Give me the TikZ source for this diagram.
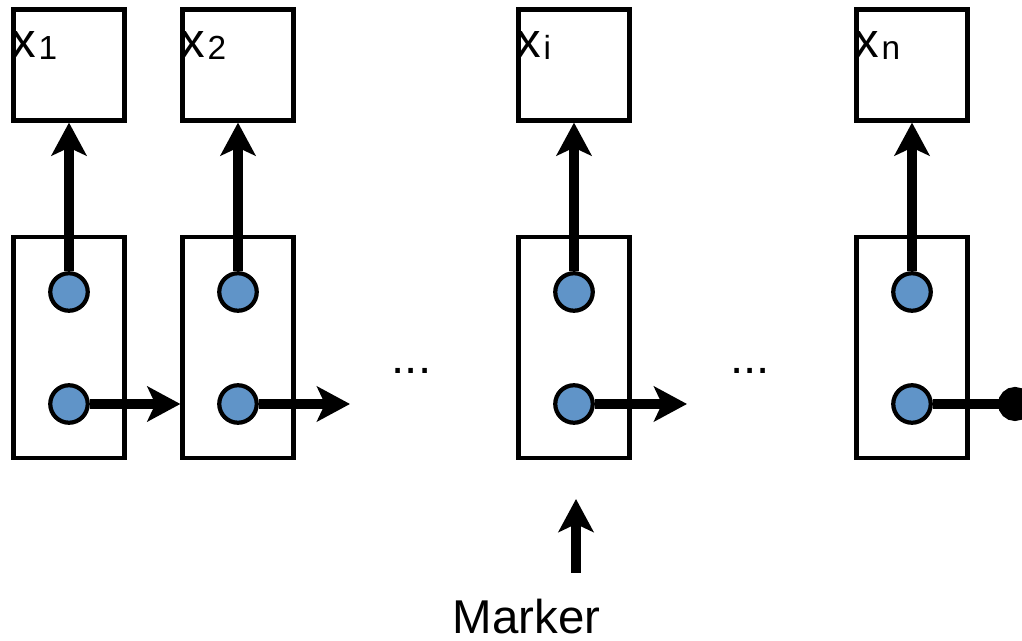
\documentclass[tikz,border=0pt]{standalone}
\usepackage{fontspec}
\setmainfont{Liberation Sans}
\usetikzlibrary{arrows.meta}
\definecolor{dotblue}{RGB}{96,148,200}
\newcommand{\xsub}[1]{x\hspace{1.5pt}\raisebox{-1pt}{\fontsize{19}{19}\selectfont #1}}
\tikzset{
	cellbox/.style={draw, line width=2.4pt, minimum width=2.22cm, minimum height=2.22cm, inner sep=0pt},
	slotbox/.style={draw, line width=2.4pt, minimum width=2.22cm, minimum height=4.42cm, inner sep=0pt},
	slot/.style={circle, draw, line width=2.4pt, fill=dotblue, minimum size=0.75cm, inner sep=0pt},
	link/.style={line width=5.7pt, -{Stealth[length=0.66cm, width=0.7cm, inset=0.16cm]}},
	lbl/.style={anchor=base west, inner sep=0pt, font=\fontsize{28}{28}\selectfont},
	bigtext/.style={anchor=base, inner sep=0pt, font=\fontsize{27}{27}\selectfont},
}

\begin{document}
\begin{tikzpicture}
			%%%%% START %%%%%
			\useasboundingbox (0, 0) rectangle (20.44, 12.82);
			
			% value cells
			\node[cellbox] (x1) at (1.38, 11.52) {};
			\node[cellbox] (x2) at (4.76, 11.52) {};
			\node[cellbox] (xi) at (11.48, 11.52) {};
			\node[cellbox] (xn) at (18.24, 11.52) {};
			\node[lbl] (l1) at (0.22, 11.66) {\xsub{1}};
			\node[lbl] (l2) at (3.60, 11.66) {\xsub{2}};
			\node[lbl] (li) at (10.32, 11.66) {\xsub{i}};
			\node[lbl] (ln) at (17.08, 11.66) {\xsub{n}};
			
			% list entries
			\node[slotbox] (s1) at (1.38, 5.87) {};
			\node[slotbox] (s2) at (4.76, 5.87) {};
			\node[slotbox] (si) at (11.48, 5.87) {};
			\node[slotbox] (sn) at (18.24, 5.87) {};
			
			\node[slot] (p1) at (1.38, 6.98) {};
			\node[slot] (q1) at (1.38, 4.74) {};
			\node[slot] (p2) at (4.76, 6.98) {};
			\node[slot] (q2) at (4.76, 4.74) {};
			\node[slot] (pi) at (11.48, 6.98) {};
			\node[slot] (qi) at (11.48, 4.74) {};
			\node[slot] (pn) at (18.24, 6.98) {};
			\node[slot] (qn) at (18.24, 4.74) {};
			
			\node[bigtext] (d1) at (8.23, 5.34) {...};
			\node[bigtext] (d2) at (15.00, 5.34) {...};
			
			\coordinate (e2) at (7.00, 4.74);
			\coordinate (ei) at (13.74, 4.74);
			\coordinate (en) at (20.64, 4.74);
			
			% pointers to the values
			\draw[link] (p1) -- (x1);
			\draw[link] (p2) -- (x2);
			\draw[link] (pi) -- (xi);
			\draw[link] (pn) -- (xn);
			
			% next pointers
			\draw[link] (q1) -- (q1 -| s2.west);
			\draw[link] (q2) -- (e2);
			\draw[link] (qi) -- (ei);
			\draw[line width=5.7pt, -{Circle[length=0.68cm]}] (qn) -- (en);
			
			% marker
			\node[bigtext] (mk) at (10.53, 0.14) {Marker};
			\coordinate (m0) at (11.52, 1.36);
			\coordinate (m1) at (11.52, 2.84);
			\draw[link] (m0) -- (m1);
			%%%%% END %%%%%
\end{tikzpicture}
\end{document}
